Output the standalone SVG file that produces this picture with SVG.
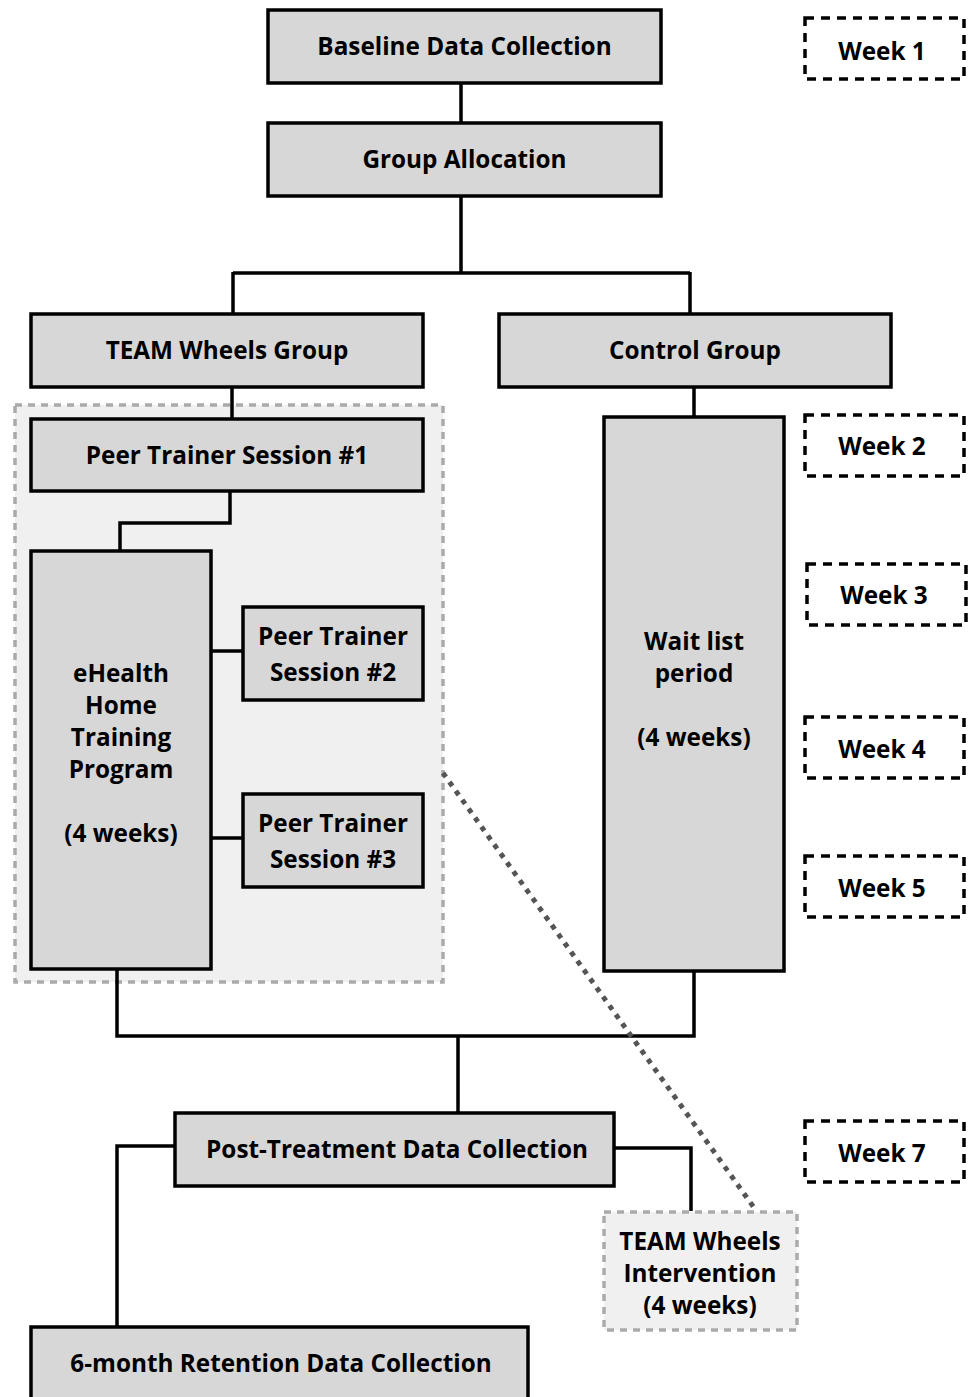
<svg xmlns="http://www.w3.org/2000/svg" width="972" height="1397" viewBox="0 0 972 1397">
<style>
.box{fill:#d7d7d7;stroke:#000;stroke-width:3.5}
.wk{fill:none;stroke:#000;stroke-width:3.5;stroke-dasharray:9 7}
.region{fill:#f0f0f0;stroke:#aaa;stroke-width:3.5;stroke-dasharray:7 6}
.c{fill:none;stroke:#000;stroke-width:3.5}
.t{font-family:"Open Sans","Liberation Sans",sans-serif;font-weight:bold;font-size:24.3px;fill:#000;text-anchor:middle}
</style>
<rect width="972" height="1397" fill="#fff"/>
<g id="region-team"><rect class="region" x="15" y="405" width="428" height="577"/></g>
<g id="connectors">
<path class="c" d="M461 83V123M461 196V273M233 273H690M233 272V314M690 272V314"/>
<path class="c" d="M232 387V419M230 491V523H120V551M211 651H243M211 838H243"/>
<path class="c" d="M694 387V417M117 969V1036H694V971M458 1036V1113"/>
<path class="c" d="M614 1148H691V1211M175 1146H117V1327"/>
<line x1="443" y1="773" x2="755" y2="1209" stroke="#555" stroke-width="5" stroke-dasharray="5 6"/>
</g>
<g id="baseline"><rect class="box" x="268" y="10" width="393" height="73"/><text class="t" x="464.5" y="55">Baseline Data Collection</text></g>
<g id="allocation"><rect class="box" x="268" y="123" width="393" height="73"/><text class="t" x="464.5" y="168">Group Allocation</text></g>
<g id="team-group"><rect class="box" x="31" y="314" width="392" height="73"/><text class="t" x="227" y="359">TEAM Wheels Group</text></g>
<g id="control-group"><rect class="box" x="499" y="314" width="392" height="73"/><text class="t" x="695" y="359">Control Group</text></g>
<g id="pts1"><rect class="box" x="31" y="419" width="392" height="72"/><text class="t" x="227" y="464">Peer Trainer Session #1</text></g>
<g id="ehealth"><rect class="box" x="31" y="551" width="180" height="418"/><text class="t" x="121"><tspan x="121" y="682">eHealth</tspan><tspan x="121" y="714">Home</tspan><tspan x="121" y="746">Training</tspan><tspan x="121" y="778">Program</tspan><tspan x="121" y="842">(4 weeks)</tspan></text></g>
<g id="pts2"><rect class="box" x="243" y="607" width="180" height="93"/><text class="t"><tspan x="333" y="645">Peer Trainer</tspan><tspan x="333" y="681">Session #2</tspan></text></g>
<g id="pts3"><rect class="box" x="243" y="794" width="180" height="93"/><text class="t"><tspan x="333" y="832">Peer Trainer</tspan><tspan x="333" y="868">Session #3</tspan></text></g>
<g id="waitlist"><rect class="box" x="604" y="417" width="180" height="554"/><text class="t"><tspan x="694" y="650">Wait list</tspan><tspan x="694" y="682">period</tspan><tspan x="694" y="746">(4 weeks)</tspan></text></g>
<g id="post"><rect class="box" x="175" y="1113" width="439" height="73"/><text class="t" x="397" y="1158">Post-Treatment Data Collection</text></g>
<g id="intervention"><rect class="region" x="604" y="1212" width="193" height="118" fill="#ececec"/><text class="t"><tspan x="700" y="1250">TEAM Wheels</tspan><tspan x="700" y="1282">Intervention</tspan><tspan x="700" y="1314">(4 weeks)</tspan></text></g>
<g id="retention"><rect class="box" x="31" y="1327" width="497" height="80"/><text class="t" x="281" y="1372">6-month Retention Data Collection</text></g>
<g id="week1"><rect class="wk" x="805" y="18" width="159" height="61"/><text class="t" x="882" y="60">Week 1</text></g>
<g id="week2"><rect class="wk" x="805" y="415" width="159" height="61"/><text class="t" x="882" y="455">Week 2</text></g>
<g id="week3"><rect class="wk" x="807" y="564" width="159" height="61"/><text class="t" x="884" y="604">Week 3</text></g>
<g id="week4"><rect class="wk" x="805" y="717" width="159" height="61"/><text class="t" x="882" y="758">Week 4</text></g>
<g id="week5"><rect class="wk" x="805" y="856" width="159" height="61"/><text class="t" x="882" y="897">Week 5</text></g>
<g id="week7"><rect class="wk" x="805" y="1121" width="159" height="61"/><text class="t" x="882" y="1162">Week 7</text></g>
</svg>
